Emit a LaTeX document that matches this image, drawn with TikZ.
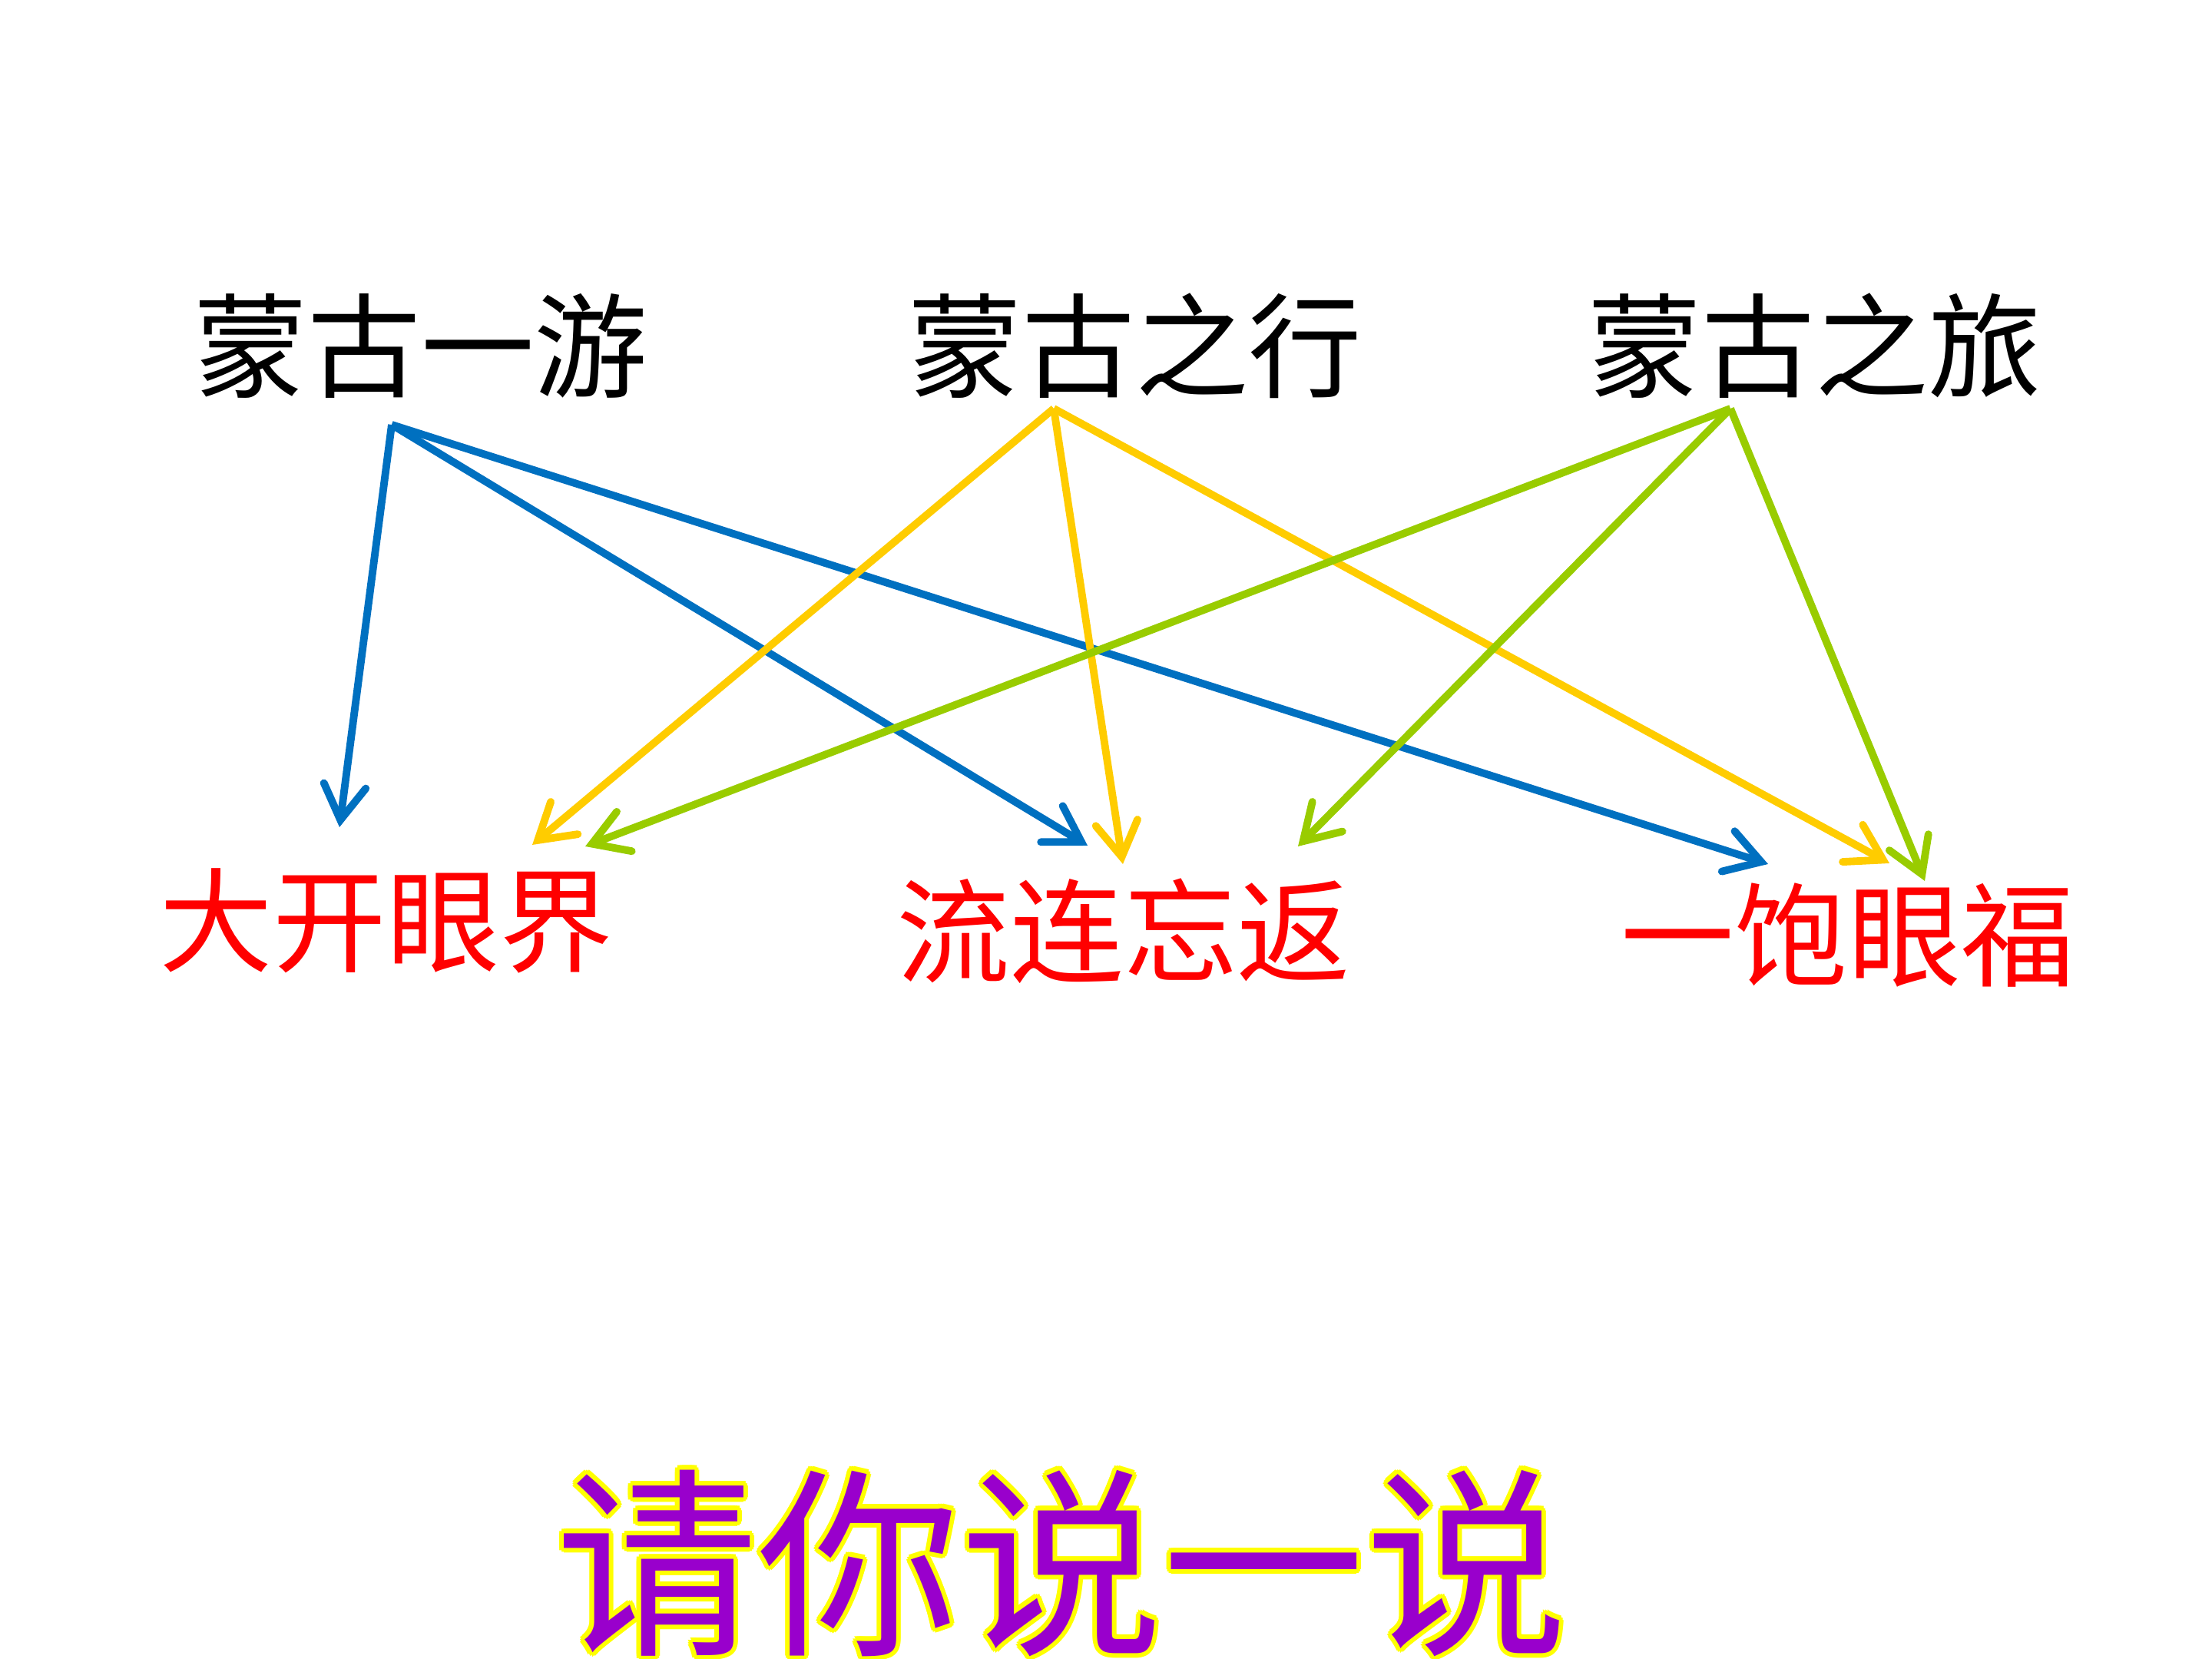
\documentclass[tikz,border=0pt]{standalone}
\usepackage{fontspec}
\newfontfamily\cjk{Noto Sans CJK SC}
\usetikzlibrary{calc,arrows.meta}
\definecolor{CBL}{RGB}{0,112,192}
\definecolor{CYE}{RGB}{255,204,0}
\definecolor{CGR}{RGB}{153,204,0}
\definecolor{CRD}{RGB}{255,0,0}
\definecolor{CPU}{RGB}{153,0,204}
\definecolor{CGL}{RGB}{255,255,0}

\tikzset{
  topword/.style={font=\cjk\fontsize{42}{42}\selectfont,inner sep=0pt},
  lowword/.style={topword,text=CRD},
  bigword/.style={font=\cjk\fontsize{75}{75}\selectfont,inner sep=0pt},
  link/.style={line width=2.8pt,-{Straight Barb[length=4.5mm,width=5.5mm,line cap=round]}},
}

\begin{document}
\begin{tikzpicture}
  \useasboundingbox (0cm,0cm) rectangle (28.8cm,21.6cm);
  % top row
  \node[topword] (you) at (5.48cm,17.10cm) {蒙古一游};
  \node[topword] (xing) at (14.78cm,17.10cm) {蒙古之行};
  \node[topword] (lv) at (23.63cm,17.10cm) {蒙古之旅};
  % lower row
  \node[lowword] (jie) at (5.03cm,9.61cm) {大开眼界};
  \node[lowword] (fan) at (14.63cm,9.48cm) {流连忘返};
  \node[lowword] (fu) at (24.06cm,9.42cm) {一饱眼福};
  % arrow ends
  \coordinate (you-s) at (5.10cm,16.07cm);
  \coordinate (xing-s) at (13.72cm,16.28cm);
  \coordinate (lv-s) at (22.53cm,16.28cm);
  \coordinate (jie-1) at (4.42cm,10.83cm);
  \coordinate (jie-2) at (6.93cm,10.60cm);
  \coordinate (jie-3) at (7.62cm,10.58cm);
  \coordinate (fan-1) at (14.16cm,10.59cm);
  \coordinate (fan-2) at (14.62cm,10.35cm);
  \coordinate (fan-3) at (16.90cm,10.58cm);
  \coordinate (fu-1) at (23.02cm,10.35cm);
  \coordinate (fu-2) at (24.60cm,10.36cm);
  \coordinate (fu-3) at (25.06cm,10.13cm);
  \draw[link,CBL] (you-s) -- (jie-1);
  \draw[link,CBL] (you-s) -- (fan-1);
  \draw[link,CBL] (you-s) -- (fu-1);
  \draw[link,CYE] (xing-s) -- (jie-2);
  \draw[link,CYE] (xing-s) -- (fan-2);
  \draw[link,CYE] (xing-s) -- (fu-2);
  \draw[link,CGR] (lv-s) -- (jie-3);
  \draw[link,CGR] (lv-s) -- (fan-3);
  \draw[link,CGR] (lv-s) -- (fu-3);
  % bottom title with yellow rim
  \coordinate (say) at (13.82cm,1.25cm);
  \foreach \a in {0,30,...,330}
    \node[bigword,text=CGL] (glow\a) at ($(say)+(\a:0.06cm)$) {请你说一说};
  \node[bigword,text=CPU] (title) at (say) {请你说一说};
\end{tikzpicture}
\end{document}
